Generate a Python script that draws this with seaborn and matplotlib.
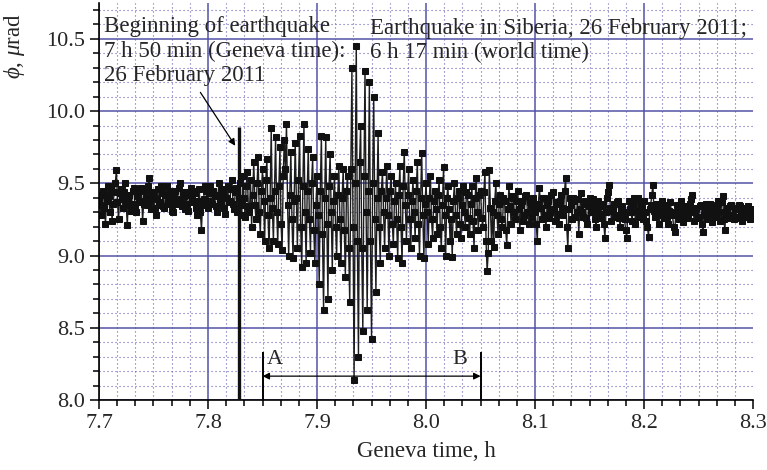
import numpy as np
import pandas as pd
import matplotlib
matplotlib.use("Agg")
import matplotlib.pyplot as plt
from matplotlib.ticker import MultipleLocator
import seaborn as sns

# tilt signal, one sample every 0.001 h starting at 7.7 h
t_start = 7.7
t_step = 0.001
phi = [
    9.40, 9.35, 9.28, 9.42, 9.45, 9.33, 9.22, 9.38, 9.48, 9.41, 9.30, 9.46, 9.24, 9.36, 9.44, 9.50, 9.59, 9.37, 9.25, 9.43,
    9.46, 9.39, 9.33, 9.44, 9.50, 9.35, 9.21, 9.40, 9.42, 9.31, 9.36, 9.45, 9.47, 9.34, 9.30, 9.41, 9.44, 9.37, 9.38, 9.47,
    9.24, 9.36, 9.45, 9.40, 9.35, 9.48, 9.54, 9.38, 9.32, 9.44, 9.42, 9.33, 9.28, 9.39, 9.46, 9.35, 9.37, 9.48, 9.43, 9.34,
    9.33, 9.42, 9.48, 9.37, 9.36, 9.45, 9.42, 9.31, 9.30, 9.40, 9.45, 9.36, 9.38, 9.47, 9.50, 9.39, 9.34, 9.44, 9.41, 9.32,
    9.44, 9.36, 9.31, 9.42, 9.47, 9.40, 9.37, 9.45, 9.43, 9.33, 9.28, 9.38, 9.46, 9.30, 9.18, 9.35, 9.39, 9.48, 9.45, 9.36,
    9.33, 9.43, 9.48, 9.38, 9.36, 9.45, 9.42, 9.34, 9.30, 9.41, 9.50, 9.39, 9.35, 9.46, 9.44, 9.33, 9.29, 9.40, 9.48, 9.37,
    9.38, 9.46, 9.52, 9.36, 9.32, 9.44, 9.47, 9.30, 9.40, 9.50, 9.35, 9.28, 9.55, 9.40, 9.27, 9.48, 9.58, 9.34, 9.30, 9.52,
    9.20, 9.42, 9.65, 9.35, 9.25, 9.50, 9.68, 9.30, 9.15, 9.45, 9.60, 9.38, 9.10, 9.52, 9.67, 9.28, 9.05, 9.40, 9.88, 9.33,
    9.10, 9.45, 9.82, 9.30, 9.08, 9.48, 9.75, 9.22, 9.04, 9.55, 9.80, 9.60, 9.91, 9.35, 9.00, 9.42, 9.72, 9.25, 8.98, 9.38,
    9.78, 9.40, 9.05, 9.52, 9.83, 9.20, 8.92, 9.48, 9.91, 9.30, 8.95, 9.45, 9.74, 9.25, 9.02, 9.50, 9.68, 9.18, 8.95, 9.35,
    9.55, 9.28, 8.80, 9.45, 9.83, 9.15, 8.62, 9.40, 9.82, 9.22, 8.70, 9.48, 9.70, 9.30, 8.90, 9.38, 9.55, 9.20, 9.00, 9.42,
    9.62, 9.25, 8.95, 9.40, 9.60, 9.18, 8.85, 9.45, 9.55, 9.05, 8.68, 9.60, 10.30, 9.20, 8.14, 9.50, 10.45, 9.10, 8.30, 9.65,
    9.90, 9.05, 8.48, 9.55, 10.28, 9.30, 8.62, 9.45, 10.20, 9.10, 8.42, 9.50, 10.10, 9.25, 8.75, 9.40, 9.85, 9.20, 8.95, 9.45,
    9.58, 9.30, 9.05, 9.40, 9.62, 9.28, 9.00, 9.45, 9.55, 9.22, 9.08, 9.38, 9.50, 9.25, 8.98, 9.42, 9.62, 9.20, 8.95, 9.48,
    9.72, 9.35, 9.10, 9.42, 9.60, 9.25, 9.05, 9.38, 9.52, 9.30, 9.12, 9.45, 9.65, 9.22, 9.00, 9.40, 9.71, 9.28, 8.98, 9.36,
    9.50, 9.30, 9.08, 9.40, 9.55, 9.25, 9.12, 9.38, 9.45, 9.32, 9.15, 9.42, 9.52, 9.20, 9.05, 9.35, 9.61, 9.28, 9.00, 9.40,
    9.48, 9.32, 9.10, 9.25, 8.99, 9.38, 9.50, 9.28, 9.15, 9.40, 9.45, 9.22, 9.12, 9.35, 9.48, 9.30, 9.20, 9.44, 9.42, 9.26,
    9.15, 9.36, 9.48, 9.24, 9.05, 9.40, 9.54, 9.30, 9.18, 9.42, 9.45, 9.26, 9.20, 9.44, 9.58, 9.10, 8.89, 9.02, 9.59, 9.33,
    9.10, 9.30, 9.06, 9.38, 9.50, 9.28, 9.15, 9.36, 9.42, 9.25, 9.20, 9.40, 9.38, 9.18, 9.07, 9.32, 9.48, 9.34, 9.22, 9.41,
    9.40, 9.30, 9.25, 9.38, 9.45, 9.32, 9.18, 9.35, 9.38, 9.24, 9.28, 9.41, 9.42, 9.30, 9.22, 9.37, 9.35, 9.27, 9.40, 9.33,
    9.30, 9.22, 9.10, 9.36, 9.47, 9.33, 9.25, 9.40, 9.40, 9.28, 9.20, 9.35, 9.38, 9.26, 9.30, 9.42, 9.44, 9.32, 9.24, 9.37,
    9.36, 9.29, 9.22, 9.38, 9.42, 9.33, 9.28, 9.45, 9.54, 9.20, 9.05, 9.32, 9.40, 9.35, 9.25, 9.40, 9.38, 9.27, 9.30, 9.39,
    9.15, 9.32, 9.43, 9.30, 9.27, 9.36, 9.38, 9.26, 9.22, 9.34, 9.40, 9.31, 9.30, 9.39, 9.35, 9.25, 9.20, 9.33, 9.38, 9.29,
    9.26, 9.34, 9.36, 9.22, 9.12, 9.30, 9.40, 9.44, 9.49, 9.33, 9.24, 9.31, 9.36, 9.27, 9.28, 9.37, 9.38, 9.26, 9.20, 9.32,
    9.34, 9.29, 9.25, 9.18, 9.12, 9.30, 9.38, 9.32, 9.30, 9.24, 9.36, 9.40, 9.22, 9.31, 9.40, 9.27, 9.28, 9.36, 9.33, 9.25,
    9.38, 9.30, 9.24, 9.20, 9.13, 9.32, 9.35, 9.42, 9.49, 9.31, 9.27, 9.34, 9.36, 9.28, 9.22, 9.33, 9.38, 9.29, 9.26, 9.35,
    9.33, 9.27, 9.22, 9.31, 9.37, 9.30, 9.28, 9.20, 9.16, 9.29, 9.35, 9.32, 9.25, 9.34, 9.38, 9.28, 9.23, 9.30, 9.34, 9.26,
    9.28, 9.33, 9.36, 9.39, 9.42, 9.30, 9.24, 9.31, 9.33, 9.26, 9.27, 9.34, 9.35, 9.22, 9.16, 9.28, 9.32, 9.36, 9.25, 9.30,
    9.36, 9.29, 9.23, 9.32, 9.34, 9.27, 9.28, 9.35, 9.38, 9.30, 9.24, 9.37, 9.41, 9.25, 9.18, 9.30, 9.33, 9.28, 9.26, 9.34,
    9.35, 9.28, 9.25, 9.33, 9.32, 9.26, 9.27, 9.35, 9.34, 9.29, 9.24, 9.31, 9.33, 9.27, 9.28, 9.34, 9.31, 9.25, 9.26, 9.32,
    9.30,
]

# markers drawn on the chart
quake_start = 7.828       # beginning of earthquake
quake_top = 9.89
a_time, b_time = 7.85, 8.05
ab_top = 8.33
ab_arrow_y = 8.165

t = t_start + t_step * np.arange(len(phi))
df = pd.DataFrame({"time": t, "phi": phi})

sns.set_style("ticks")
plt.rcParams["font.family"] = ["Liberation Serif", "DejaVu Serif"]
plt.rcParams["mathtext.fontset"] = "custom"
plt.rcParams["mathtext.rm"] = "Liberation Serif"
plt.rcParams["mathtext.it"] = "Liberation Serif:italic"

grid_col = "#5352a6"

fig = plt.figure(figsize=(7.67, 4.70), dpi=100)
ax = fig.add_axes([0.129, 0.149, 0.853, 0.845])

ax.xaxis.set_major_locator(MultipleLocator(0.1))
ax.xaxis.set_minor_locator(MultipleLocator(1 / 60))
ax.yaxis.set_major_locator(MultipleLocator(0.5))
ax.yaxis.set_minor_locator(MultipleLocator(0.1))
ax.grid(which="major", color=grid_col, lw=1.1)
ax.grid(which="minor", color="#6664b4", lw=0.8, ls=(0, (1, 2.6)))
ax.set_axisbelow(True)

sns.lineplot(data=df, x="time", y="phi", estimator=None, sort=False,
             color="#1c1c1c", lw=1.0, marker="s", markersize=4.0,
             markerfacecolor="#111111", markeredgecolor="#111111", ax=ax)

ax.vlines(quake_start, 8.0, quake_top, color="#111111", lw=2.4, zorder=3)
ax.vlines([a_time, b_time], 8.0, ab_top, color="black", lw=1.4, zorder=3)
ax.annotate("", xy=(a_time, ab_arrow_y), xytext=(b_time, ab_arrow_y),
            arrowprops=dict(arrowstyle="<|-|>", color="black", lw=0.9,
                            mutation_scale=10, shrinkA=0, shrinkB=0))
ax.text(a_time + 0.004, 8.25, "A", fontsize=16)
ax.text(b_time - 0.026, 8.25, "B", fontsize=16)

ax.annotate("", xy=(7.825, 9.76), xytext=(7.793, 10.13),
            arrowprops=dict(arrowstyle="-|>", color="black", lw=0.9,
                            mutation_scale=10, shrinkA=0, shrinkB=0))
ax.text(0.008, 0.966, "Beginning of earthquake\n7 h 50 min (Geneva time):\n26 February 2011",
        transform=ax.transAxes, fontsize=16.5, va="top", ha="left", linespacing=1.2)
ax.text(0.414, 0.962, "Earthquake in Siberia, 26 February 2011;\n6 h 17 min (world time)",
        transform=ax.transAxes, fontsize=16.5, va="top", ha="left", linespacing=1.2)

ax.set_xlim(7.7, 8.3)
ax.set_ylim(8.0, 10.75)
ax.set_xticks([7.7, 7.8, 7.9, 8.0, 8.1, 8.2, 8.3])
ax.set_xticklabels(["7.7", "7.8", "7.9", "8.0", "8.1", "8.2", "8.3"])
ax.set_yticks([8.0, 8.5, 9.0, 9.5, 10.0, 10.5])
ax.set_yticklabels(["8.0", "8.5", "9.0", "9.5", "10.0", "10.5"])
ax.tick_params(which="major", direction="out", length=6.5, width=1.1, labelsize=16, color="black")
ax.tick_params(which="minor", direction="out", length=4.5, width=1.1, color="black")
ax.xaxis.get_major_ticks()[-1].gridline.set_visible(False)
ax.set_xlabel("Geneva time, h", fontsize=16.5, labelpad=6)
ax.set_ylabel(r"$\phi$, $\mu$rad", fontsize=16.5)
ax.yaxis.set_label_coords(-0.11, 0.89)

sns.despine(ax=ax)
for side in ["left", "bottom"]:
    ax.spines[side].set_linewidth(1.2)
    ax.spines[side].set_color("black")

fig.savefig("out.png", dpi=100)
